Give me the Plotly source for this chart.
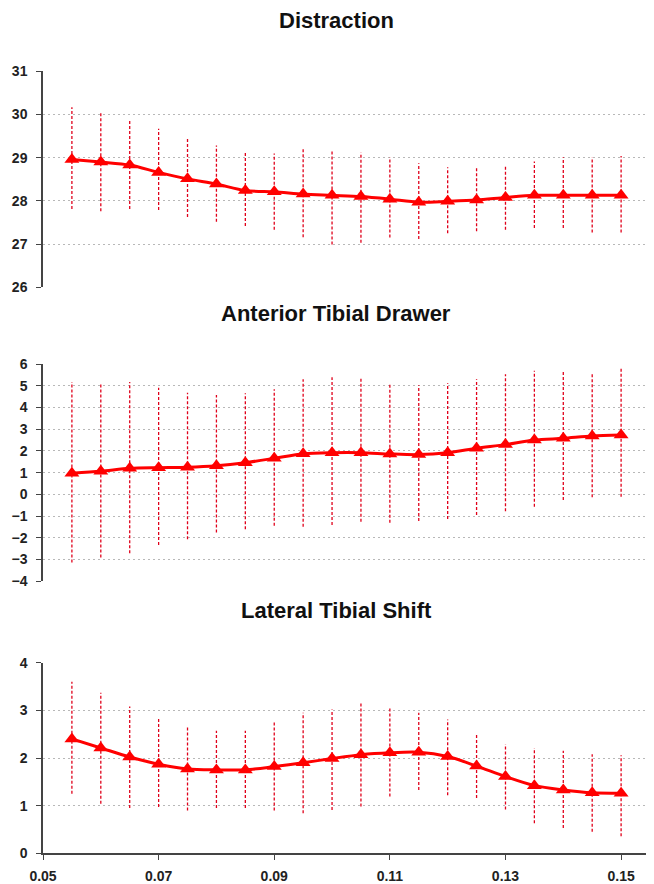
import plotly.graph_objects as go

x_vals = [0.055, 0.060, 0.065, 0.070, 0.075, 0.080, 0.085, 0.090, 0.095, 0.100,
          0.105, 0.110, 0.115, 0.120, 0.125, 0.130, 0.135, 0.140, 0.145, 0.150]

titles = ["Distraction", "Anterior Tibial Drawer", "Lateral Tibial Shift"]

dist_mean = [28.96, 28.90, 28.83, 28.66, 28.51, 28.39, 28.24, 28.21, 28.16, 28.13,
             28.10, 28.04, 27.97, 27.99, 28.02, 28.08, 28.13, 28.13, 28.13, 28.13]
dist_upper = [30.17, 30.07, 29.87, 29.67, 29.43, 29.28, 29.13, 29.10, 29.21, 29.18,
              29.12, 29.01, 28.87, 28.78, 28.78, 28.81, 28.91, 29.01, 29.01, 29.04]
dist_lower = [27.81, 27.76, 27.81, 27.79, 27.63, 27.52, 27.42, 27.33, 27.16, 26.99,
              27.03, 27.15, 27.12, 27.25, 27.30, 27.33, 27.37, 27.37, 27.27, 27.27]

atd_mean = [0.97, 1.06, 1.20, 1.23, 1.25, 1.32, 1.46, 1.66, 1.87, 1.92,
            1.92, 1.86, 1.83, 1.92, 2.12, 2.29, 2.50, 2.58, 2.69, 2.73]
atd_upper = [5.17, 5.11, 5.17, 4.91, 4.68, 4.57, 4.65, 4.84, 5.30, 5.39,
             5.33, 5.07, 5.02, 5.11, 5.30, 5.53, 5.69, 5.72, 5.62, 5.85]
atd_lower = [-3.14, -2.90, -2.71, -2.33, -2.07, -1.76, -1.61, -1.44, -1.49, -1.41,
             -1.26, -1.30, -1.22, -1.13, -0.95, -0.78, -0.57, -0.26, -0.13, -0.11]

lts_mean = [2.40, 2.21, 2.02, 1.87, 1.77, 1.75, 1.75, 1.82, 1.90, 1.99,
            2.07, 2.11, 2.12, 2.03, 1.83, 1.61, 1.42, 1.33, 1.27, 1.26]
lts_upper = [3.60, 3.37, 3.08, 2.83, 2.67, 2.57, 2.57, 2.76, 2.95, 3.02,
             3.15, 3.04, 2.95, 2.81, 2.52, 2.29, 2.21, 2.15, 2.08, 2.06]
lts_lower = [1.25, 1.04, 0.95, 0.97, 0.90, 0.95, 0.95, 0.90, 0.84, 0.91,
             0.98, 1.19, 1.33, 1.22, 1.16, 0.92, 0.63, 0.53, 0.45, 0.36]

y_ticks = [[26, 27, 28, 29, 30, 31],
           [-4, -3, -2, -1, 0, 1, 2, 3, 4, 5, 6],
           [0, 1, 2, 3, 4]]
y_ranges = [[26, 31], [-4, 6], [0, 4]]
x_ticks = [0.05, 0.07, 0.09, 0.11, 0.13, 0.15]
x_tick_labels = ["0.05", "0.07", "0.09", "0.11", "0.13", "0.15"]

# the page puts the figure 8px in from the top-left corner
OFF = 8
W, H = 654 - OFF, 884 - OFF
L, R = 43 - OFF, 4
PW = W - L - R
domains_px = [(71.3, 287.3), (364.0, 581.3), (662.7, 853.3)]
title_y_px = [20, 313.5, 610.5]
title_x_px = 336

series = [(dist_mean, dist_upper, dist_lower),
          (atd_mean, atd_upper, atd_lower),
          (lts_mean, lts_upper, lts_lower)]

RED = "#ff0000"
ERR = "#e0001a"
TICKFONT = dict(family="Liberation Sans, Arial, sans-serif", size=14, color="#222222", weight="bold")

fig = go.Figure()
layout = dict(
    width=W, height=H,
    margin=dict(l=L, r=R, t=0, b=0, pad=0, autoexpand=False),
    paper_bgcolor="white", plot_bgcolor="white",
    showlegend=False,
    annotations=[],
)

for i, (m, up, lo) in enumerate(series):
    n = i + 1
    xa = "x" if n == 1 else f"x{n}"
    ya = "y" if n == 1 else f"y{n}"
    ex, ey = [], []
    for xv, u, l in zip(x_vals, up, lo):
        ex += [xv, xv, None]
        ey += [l, u, None]
    fig.add_trace(go.Scatter(x=ex, y=ey, mode="lines", xaxis=xa, yaxis=ya,
                             line=dict(color=ERR, width=1.3, dash="3px,2px"),
                             hoverinfo="skip"))
    fig.add_trace(go.Scatter(x=x_vals, y=m, mode="lines+markers", xaxis=xa, yaxis=ya,
                             line=dict(color=RED, width=3, shape="spline", smoothing=0.8),
                             marker=dict(symbol="triangle-up", size=13, color=RED)))

    top_px, bot_px = domains_px[i]
    dom = [1 - (bot_px - OFF) / H, 1 - (top_px - OFF) / H]
    last = (i == 2)
    xkey = "xaxis" if n == 1 else f"xaxis{n}"
    ykey = "yaxis" if n == 1 else f"yaxis{n}"
    layout[xkey] = dict(
        domain=[0, 1], range=[0.05, 0.155], anchor=ya, automargin=False,
        showgrid=False, zeroline=False,
        showline=last, linecolor="#444444", linewidth=1.5,
        ticks="outside" if last else "", ticklen=5, tickcolor="#444444",
        tickvals=x_ticks, ticktext=x_tick_labels,
        showticklabels=last, tickfont=TICKFONT, ticklabelstandoff=4,
    )
    layout[ykey] = dict(
        domain=dom, range=y_ranges[i], anchor=xa, automargin=False,
        tickvals=y_ticks[i], showgrid=True, gridcolor="#b8b8b8", gridwidth=1,
        griddash="2px,3px", zeroline=False,
        showline=True, linecolor="#444444", linewidth=1.5,
        ticks="outside", ticklen=5, tickcolor="#444444",
        tickfont=TICKFONT, ticklabelstandoff=6,
    )
    layout["annotations"].append(dict(
        text=titles[i], xref="paper", yref="paper",
        x=(title_x_px - OFF - L) / PW, y=1 - (title_y_px[i] - OFF) / H,
        xanchor="center", yanchor="middle", showarrow=False,
        font=dict(family="Liberation Sans, Arial, sans-serif", size=22, color="#111111", weight="bold"),
    ))

fig.update_layout(**layout)
fig.write_html("out.html")
